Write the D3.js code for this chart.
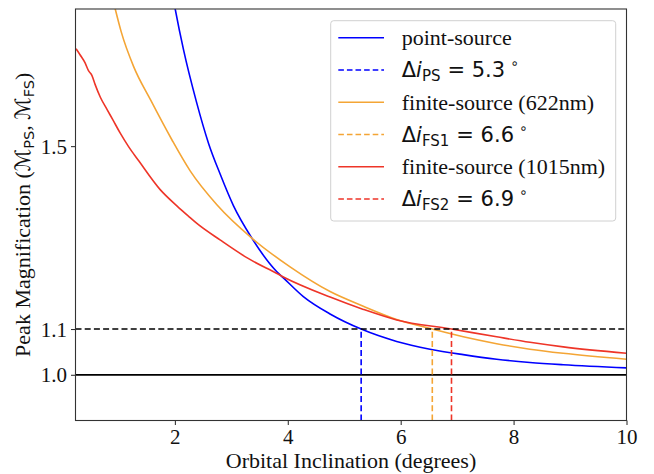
<!DOCTYPE html>
<html>
<head>
<meta charset="utf-8">
<script src="https://cdn.jsdelivr.net/npm/d3@7"></script>
<style>
  html, body { margin: 0; padding: 0; background: #fff; }
  svg { display: block; }
</style>
</head>
<body>
<svg id="chart" width="654" height="474"></svg>
<script>
// Tick values
const xTicks = [2, 4, 6, 8, 10];
const yTicks = [1.0, 1.1, 1.5];

// Point-source peak magnification vs. orbital inclination
const psIncl = [1.90, 2.006, 2.153, 2.38, 2.60, 2.802, 3.037, 3.363, 3.802, 3.922, 4.276, 4.749, 5.30, 5.929, 6.519, 7.108, 7.699, 8.289, 8.878, 10.0];
const psMag  = [1.873, 1.800, 1.711, 1.598, 1.505, 1.439, 1.370, 1.299, 1.226, 1.212, 1.171, 1.133, 1.100, 1.073, 1.056, 1.044, 1.034, 1.027, 1.022, 1.015];

// Finite-source, 622 nm
const fs1Incl = [0.85, 0.944, 1.05, 1.27, 1.57, 1.947, 2.271, 2.744, 3.363, 4.041, 4.749, 5.338, 5.929, 6.56, 7.108, 7.699, 8.289, 8.878, 10.0];
const fs1Mag  = [1.848, 1.800, 1.750, 1.674, 1.601, 1.514, 1.446, 1.372, 1.299, 1.236, 1.182, 1.150, 1.121, 1.100, 1.083, 1.068, 1.056, 1.047, 1.034];

// Finite-source, 1015 nm
const fs2Incl = [0.25, 0.32, 0.41, 0.47, 0.53, 0.59, 0.68, 0.80, 0.90, 1.03, 1.18, 1.36, 1.74, 2.04, 2.24, 2.39, 2.80, 3.29, 3.80, 3.922, 4.75, 5.34, 5.93, 6.90, 7.70, 8.29, 8.88, 10.0];
const fs2Mag  = [1.713, 1.700, 1.682, 1.665, 1.655, 1.634, 1.607, 1.580, 1.558, 1.529, 1.499, 1.468, 1.405, 1.369, 1.347, 1.331, 1.295, 1.255, 1.222, 1.214, 1.170, 1.143, 1.120, 1.100, 1.083, 1.071, 1.061, 1.047];

// Inclination at which each curve drops to the detection threshold
const threshold = 1.1;
const deltaValues = [5.3, 6.56, 6.9];
const deltaSubs = ["PS", "FS1", "FS2"];

const seriesNames = ["point-source", "finite-source (622nm)", "finite-source (1015nm)"];
const colors = ["#0000ff", "#f4a535", "#ee3528"];

const svg = d3.select("#chart");
const mLeft = 75.5, mRight = 626.5, mTop = 9, mBottom = 420.5;

const x = d3.scaleLinear().domain([0.24, 10]).range([mLeft, mRight]);
const y = d3.scaleLinear().domain([0.9, 1.8]).range([mBottom, mTop]);

svg.append("defs").append("clipPath").attr("id", "plotclip")
  .append("rect").attr("x", mLeft).attr("y", mTop)
  .attr("width", mRight - mLeft).attr("height", mBottom - mTop);

const plot = svg.append("g").attr("clip-path", "url(#plotclip)");

const series = [
  { incl: psIncl, mag: psMag },
  { incl: fs1Incl, mag: fs1Mag },
  { incl: fs2Incl, mag: fs2Mag }
];

const line = d3.line()
  .x(d => x(d[0]))
  .y(d => y(d[1]))
  .curve(d3.curveMonotoneX);

series.forEach((s, k) => {
  plot.append("path")
    .datum(s.incl.map((v, j) => [v, s.mag[j]]))
    .attr("d", line)
    .attr("fill", "none")
    .attr("stroke", colors[k])
    .attr("stroke-width", 1.6);
});

// Threshold and unity reference lines
plot.append("line")
  .attr("x1", mLeft).attr("x2", mRight)
  .attr("y1", y(threshold)).attr("y2", y(threshold))
  .attr("stroke", "#000").attr("stroke-width", 1.6)
  .attr("stroke-dasharray", "6,3.2");
plot.append("line")
  .attr("x1", mLeft).attr("x2", mRight)
  .attr("y1", y(1.0)).attr("y2", y(1.0))
  .attr("stroke", "#000").attr("stroke-width", 1.8);

// Vertical dashed markers at the threshold crossings
deltaValues.forEach((v, k) => {
  plot.append("line")
    .attr("x1", x(v)).attr("x2", x(v))
    .attr("y1", y(0.9)).attr("y2", y(threshold))
    .attr("stroke", colors[k]).attr("stroke-width", 1.6)
    .attr("stroke-dasharray", "6,3.2");
});

// Axes
const xAxis = d3.axisBottom(x).tickValues(xTicks).tickSize(4.5).tickPadding(4)
  .tickFormat(d3.format("d"));
const yAxis = d3.axisLeft(y).tickValues(yTicks).tickSize(4.5).tickPadding(4)
  .tickFormat(d3.format(".1f"));

const gx = svg.append("g").attr("transform", `translate(0,${mBottom})`).call(xAxis);
const gy = svg.append("g").attr("transform", `translate(${mLeft},0)`).call(yAxis);
[gx, gy].forEach(g => {
  g.select(".domain").remove();
  g.selectAll(".tick line").attr("stroke", "#222").attr("stroke-width", 1);
  g.selectAll(".tick text")
    .attr("fill", "#111")
    .style("font-family", "'Liberation Serif', 'Times New Roman', serif")
    .style("font-size", "21px");
});
gx.selectAll(".tick text").attr("dy", "0.72em");
gy.selectAll(".tick text").attr("dy", "0.34em");

// Frame
svg.append("rect")
  .attr("x", mLeft).attr("y", mTop)
  .attr("width", mRight - mLeft).attr("height", mBottom - mTop)
  .attr("fill", "none").attr("stroke", "#333").attr("stroke-width", 1.1);

// Axis titles
svg.append("text")
  .attr("x", (mLeft + mRight) / 2).attr("y", 468)
  .attr("text-anchor", "middle")
  .style("font-family", "'Liberation Serif', 'Times New Roman', serif")
  .style("font-size", "22px").attr("fill", "#111")
  .text("Orbital Inclination (degrees)");

const yl = svg.append("text")
  .attr("transform", `translate(30,${(mTop + mBottom) / 2}) rotate(-90)`)
  .attr("text-anchor", "middle")
  .style("font-family", "'Liberation Serif', 'Times New Roman', serif")
  .style("font-size", "22px").attr("fill", "#111");
yl.append("tspan").text("Peak Magnification (");
yl.append("tspan").style("font-family", "'DejaVu Sans'").style("font-size", "21px").text("\u2133");
yl.append("tspan").style("font-family", "'DejaVu Sans'").style("font-size", "14.5px").attr("dy", 4).text("PS");
yl.append("tspan").attr("dy", -4).text(", ");
yl.append("tspan").style("font-family", "'DejaVu Sans'").style("font-size", "21px").text("\u2133");
yl.append("tspan").style("font-family", "'DejaVu Sans'").style("font-size", "14.5px").attr("dy", 4).text("FS");
yl.append("tspan").attr("dy", -4).text(")");

// Legend
const lg = svg.append("g");
lg.append("rect")
  .attr("x", 330.7).attr("y", 20.7).attr("width", 285).attr("height", 200.3)
  .attr("rx", 3).attr("ry", 3)
  .attr("fill", "#fff").attr("fill-opacity", 0.8)
  .attr("stroke", "#d0d0d0").attr("stroke-width", 1);

const rowY0 = 37.7, rowStep = 32.26;
for (let k = 0; k < 3; k++) {
  const ySolid = rowY0 + rowStep * (2 * k);
  const yDash = rowY0 + rowStep * (2 * k + 1);
  lg.append("line").attr("x1", 338.3).attr("x2", 384).attr("y1", ySolid).attr("y2", ySolid)
    .attr("stroke", colors[k]).attr("stroke-width", 1.6);
  lg.append("text").attr("x", 401.7).attr("y", ySolid + 7.3)
    .style("font-family", "'Liberation Serif', 'Times New Roman', serif")
    .style("font-size", "22px").attr("fill", "#111")
    .text(seriesNames[k]);

  lg.append("line").attr("x1", 338.3).attr("x2", 384).attr("y1", yDash).attr("y2", yDash)
    .attr("stroke", colors[k]).attr("stroke-width", 1.6)
    .attr("stroke-dasharray", "5.6,3");
  const t = lg.append("text").attr("x", 401.7).attr("y", yDash + 7.3)
    .attr("xml:space", "preserve")
    .style("white-space", "pre")
    .style("font-family", "'DejaVu Sans', sans-serif")
    .style("font-size", "21px").attr("fill", "#111");
  t.append("tspan").text("\u0394");
  t.append("tspan").style("font-style", "italic").text("i");
  t.append("tspan").style("font-size", "15px").attr("dy", 4).text(deltaSubs[k]);
  t.append("tspan").attr("dy", -4).attr("dx", 7).text("= " + deltaValues[k].toFixed(1));
  t.append("tspan").style("font-size", "14px").attr("dy", -9).attr("dx", 5).text("\u2218");
}
</script>
</body>
</html>
